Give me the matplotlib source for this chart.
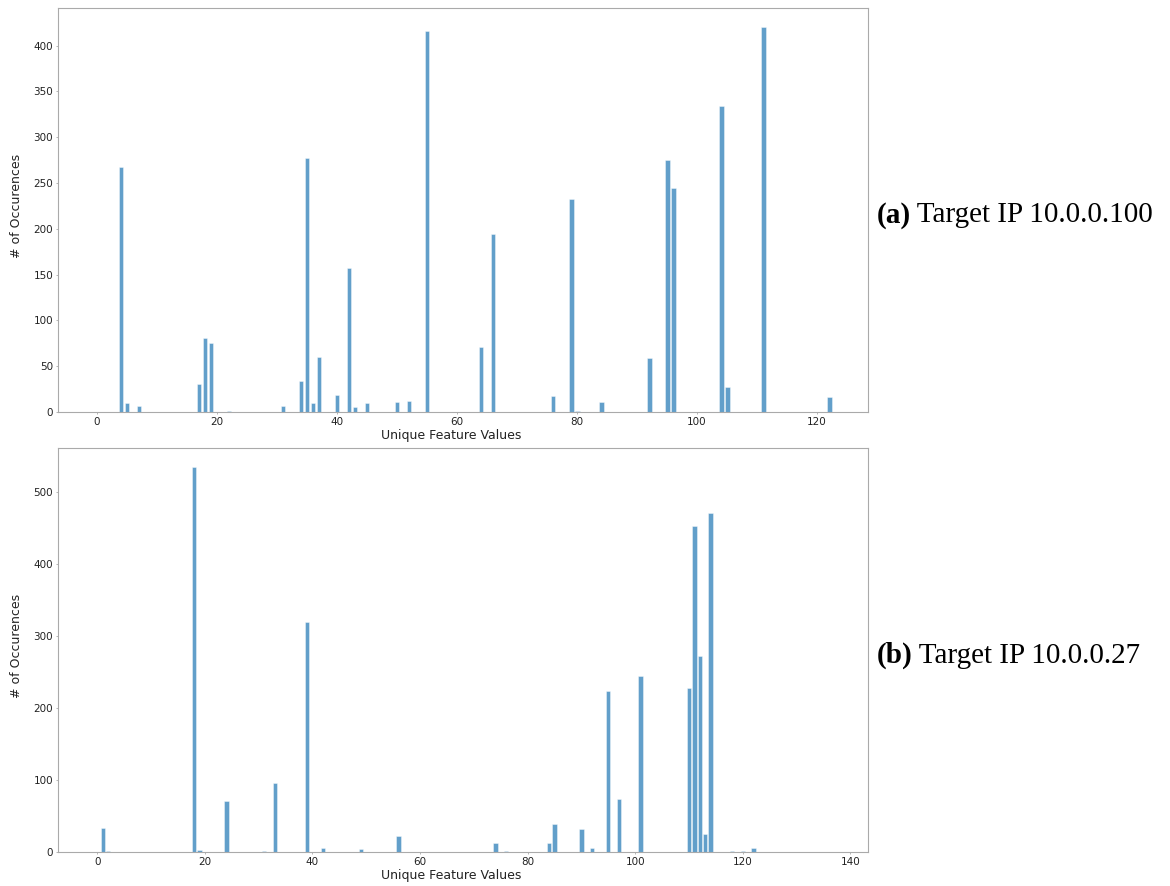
import matplotlib.pyplot as plt

# counts per unique feature value, target 10.0.0.100
values_a = [4, 5, 7, 17, 18, 19, 22, 31, 34, 35, 36, 37, 40, 42, 43, 45, 50, 52,
            55, 64, 66, 76, 79, 80, 84, 92, 95, 96, 104, 105, 111, 122]
counts_a = [267, 10, 6, 31, 81, 75, 1, 6, 34, 277, 10, 60, 18, 157, 5, 10, 11, 12,
            416, 71, 194, 17, 232, 1, 11, 59, 275, 245, 334, 27, 420, 16]

# counts per unique feature value, target 10.0.0.27
values_b = [1, 2, 18, 19, 24, 31, 33, 39, 42, 49, 56, 74, 76, 84, 85, 90, 92, 95,
            97, 101, 110, 111, 112, 113, 114, 118, 120, 122]
counts_b = [33, 2, 534, 3, 71, 1, 96, 319, 5, 4, 22, 12, 1, 13, 39, 32, 6, 224,
            73, 244, 227, 452, 272, 25, 470, 1, 1, 5]

captions = [("(a)", " Target IP 10.0.0.100"), ("(b)", " Target IP 10.0.0.27")]

fig = plt.figure(figsize=(11.7, 8.86), dpi=100)
ax_a = fig.add_axes([0.0496, 0.535, 0.6924, 0.456])
ax_b = fig.add_axes([0.0496, 0.0384, 0.6924, 0.456])

panels = [(ax_a, values_a, counts_a, (-6.5, 128.5), range(0, 121, 20)),
          (ax_b, values_b, counts_b, (-7.3, 143.3), range(0, 141, 20))]

for ax, vals, cnts, xlim, xticks in panels:
    ax.bar(vals, cnts, width=0.8, color='#1f77b4', alpha=0.7,
           edgecolor='white', linewidth=0.4)
    ax.set_xlim(*xlim)
    ax.set_ylim(0, max(cnts) * 1.05)
    ax.set_xticks(list(xticks))
    ax.set_xlabel("Unique Feature Values", fontsize=9, color='#222222')
    ax.set_ylabel("# of Occurences", fontsize=9, color='#222222')
    ax.xaxis.set_label_coords(0.485, -0.042, transform=ax.transAxes)
    ax.yaxis.set_label_coords(-0.0435, 0.51)
    ax.xaxis.label.set_va('top')
    ax.tick_params(length=1.5, width=0.6, color='#aaaaaa', labelsize=7.5,
                   labelcolor='#222222', pad=2)
    for s in ax.spines.values():
        s.set_color('#aaaaaa')

ys = [0.757, 0.26]
for (lab, rest), y in zip(captions, ys):
    t = fig.text(0.749, y, lab, family='Liberation Serif', fontweight='bold',
                 fontsize=21, va='center', ha='left')
    fig.canvas.draw()
    bb = t.get_window_extent()
    fig.text(bb.x1 / fig.bbox.width, y, rest, family='Liberation Serif',
             fontsize=21, va='center', ha='left')

fig.savefig("out.png", dpi=100)
